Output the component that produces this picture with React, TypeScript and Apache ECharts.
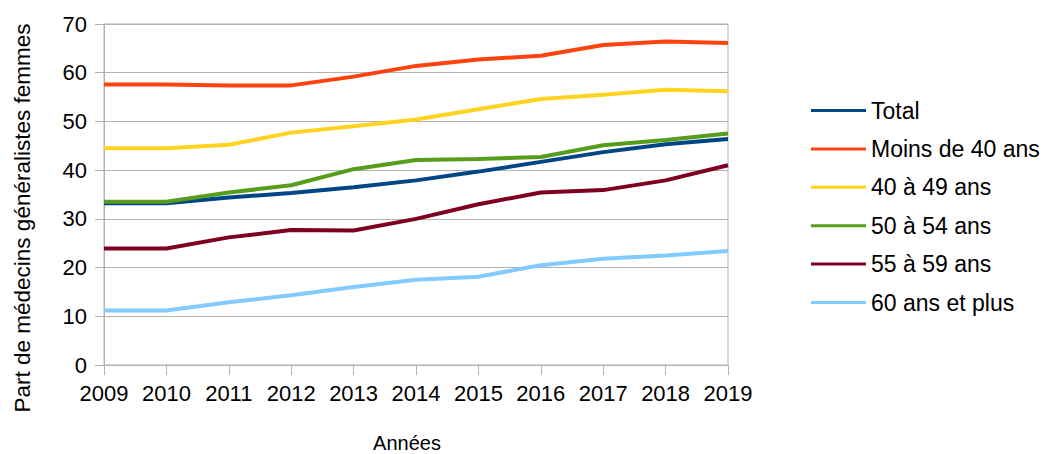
import React, { useEffect, useRef } from "react";
import * as echarts from "echarts";

const years = ["2009", "2010", "2011", "2012", "2013", "2014", "2015", "2016", "2017", "2018", "2019"];
const total = [33.2, 33.2, 34.4, 35.3, 36.5, 37.9, 39.7, 41.7, 43.7, 45.3, 46.4];
const moins40 = [57.6, 57.6, 57.4, 57.4, 59.2, 61.4, 62.7, 63.5, 65.7, 66.4, 66.1];
const a40_49 = [44.5, 44.5, 45.2, 47.7, 49.0, 50.4, 52.5, 54.6, 55.5, 56.5, 56.2];
const a50_54 = [33.5, 33.5, 35.4, 36.9, 40.2, 42.1, 42.3, 42.7, 45.1, 46.2, 47.5];
const a55_59 = [23.9, 23.9, 26.2, 27.7, 27.6, 30.0, 33.0, 35.4, 35.9, 37.9, 41.0];
const a60plus = [11.2, 11.2, 12.9, 14.3, 16.0, 17.5, 18.1, 20.5, 21.8, 22.5, 23.4];

const seriesNames = ["Total", "Moins de 40 ans", "40 à 49 ans", "50 à 54 ans", "55 à 59 ans", "60 ans et plus"];
const seriesData = [total, moins40, a40_49, a50_54, a55_59, a60plus];
const colors = ["#004586", "#ff420e", "#ffd320", "#579d1c", "#7e0021", "#83caff"];
const yTitle = "Part de médecins généralistes femmes";
const xTitle = "Années";

export default function App() {
  const ref = useRef<HTMLDivElement>(null);
  useEffect(() => {
    if (!ref.current) return;
    const chart = echarts.init(ref.current, null, { renderer: "svg" });
    const font = "'Liberation Sans', Arial, sans-serif";
    chart.setOption({
      animation: false,
      backgroundColor: "#ffffff",
      textStyle: { fontFamily: font },
      grid: {
        left: 104,
        right: 315,
        top: 24,
        bottom: 89,
        show: true,
        borderColor: "#b3b3b3",
        borderWidth: 1,
      },
      legend: {
        orient: "vertical",
        left: 806,
        top: 94,
        itemWidth: 55,
        itemHeight: 3,
        itemGap: 15.4,
        icon: "rect",
        textStyle: { fontSize: 23, color: "#000", fontFamily: font },
        data: seriesNames,
      },
      graphic: [
        {
          type: "text",
          x: 22,
          y: 218,
          rotation: Math.PI / 2,
          style: {
            text: yTitle,
            fontSize: 22.5,
            fontFamily: font,
            fill: "#000",
            align: "center",
            verticalAlign: "middle",
          },
        },
        {
          type: "text",
          x: 407,
          y: 443,
          style: {
            text: xTitle,
            fontSize: 20,
            fontFamily: font,
            fill: "#000",
            align: "center",
            verticalAlign: "middle",
          },
        },
      ],
      xAxis: {
        type: "category",
        data: years,
        boundaryGap: false,
        axisLine: { show: true, lineStyle: { color: "#b3b3b3" } },
        axisTick: { show: true, length: 10, interval: 0, lineStyle: { color: "#b3b3b3" } },
        axisLabel: { fontSize: 22, color: "#000", margin: 17, interval: 0, hideOverlap: false },
        splitLine: { show: false },
      },
      yAxis: {
        type: "value",
        min: 0,
        max: 70,
        interval: 10,
        axisLine: { show: true, lineStyle: { color: "#b3b3b3" } },
        axisTick: { show: true, length: 9, lineStyle: { color: "#b3b3b3" } },
        axisLabel: { fontSize: 22, color: "#000", margin: 17 },
        splitLine: { show: true, lineStyle: { color: "#b3b3b3" } },
      },
      series: seriesNames.map((name, i) => ({
        name,
        type: "line",
        data: seriesData[i],
        symbol: "none",
        color: colors[i],
        lineStyle: { width: 4, color: colors[i] },
      })),
    });
    return () => chart.dispose();
  }, []);
  return (
    <div
      ref={ref}
      style={{ position: "fixed", left: 0, top: 0, width: 1043, height: 454 }}
    />
  );
}
